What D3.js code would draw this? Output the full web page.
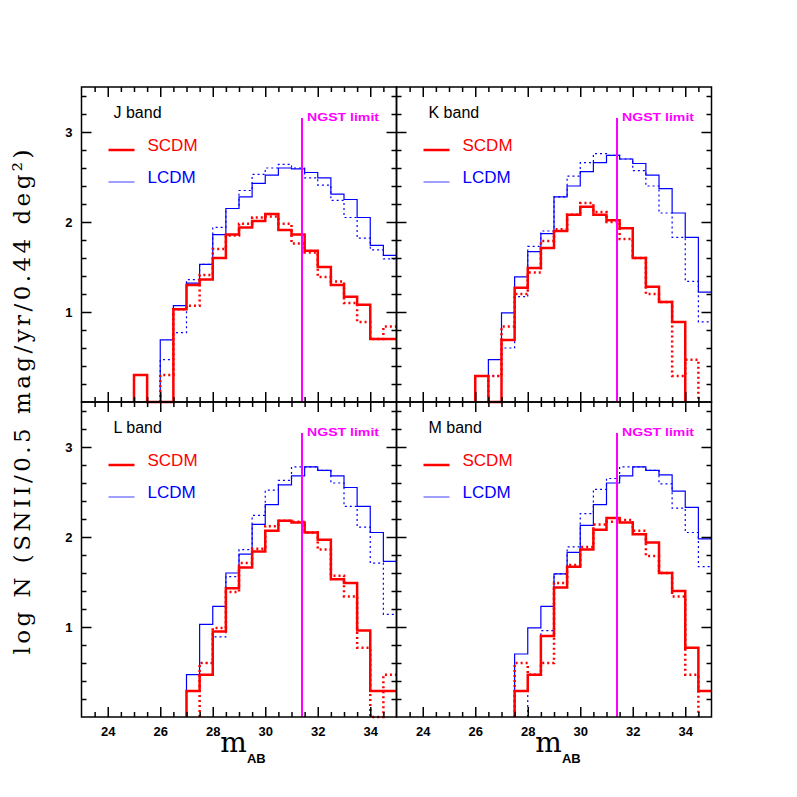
<!DOCTYPE html>
<html>
<head>
<meta charset="utf-8">
<script src="https://cdnjs.cloudflare.com/ajax/libs/d3/7.8.5/d3.min.js"></script>
<style>
	body { margin: 0; background: #fff; }
</style>
</head>
<body>
<div id="chart"></div>
<script>

/////// Data //////////

	// lower edge of each 0.5 mag bin
	var binStarts = [23, 23.5, 24, 24.5, 25, 25.5, 26, 26.5, 27, 27.5, 28, 28.5,
		29, 29.5, 30, 30.5, 31, 31.5, 32, 32.5, 33, 33.5, 34, 34.5];
	var binWidth = 0.5;

	var bands = ["J band", "K band", "L band", "M band"];
	var models = ["SCDM", "LCDM"];
	var ngstLimit = 31.4;

	// log N per bin (0 = empty)
	var jScdmSolid  = [0,0,0,0,0.30,0,0,1.03,1.30,1.36,1.60,1.86,1.94,2.01,2.09,1.91,1.86,1.68,1.50,1.30,1.17,1.08,0.70,0.70];
	var jScdmDotted = [0,0,0,0,0,0,0.30,1.03,1.07,1.41,1.70,1.85,1.98,2.05,2.06,1.98,1.76,1.66,1.39,1.34,1.10,0.89,0.70,0.84];
	var jLcdmSolid  = [0,0,0,0,0,0,0.69,1.07,1.32,1.53,1.86,2.15,2.28,2.43,2.52,2.60,2.59,2.55,2.49,2.31,2.25,2.05,1.74,1.63];
	var jLcdmDotted = [0,0,0,0,0,0,0.47,0.77,1.36,1.53,1.94,2.15,2.35,2.53,2.60,2.64,2.60,2.49,2.41,2.24,2.05,1.82,1.69,1.59];

	var kScdmSolid  = [0,0,0,0,0,0,0.29,0,0.69,1.27,1.49,1.71,1.90,2.08,2.17,2.08,2.02,1.93,1.60,1.28,1.11,0.89,0,0];
	var kScdmDotted = [0,0,0,0,0,0,0,0.29,0.84,1.20,1.44,1.79,1.92,2.08,2.21,2.11,2.00,1.81,1.60,1.20,1.11,0.29,0.47,0];
	var kLcdmSolid  = [0,0,0,0,0,0,0.29,0.47,0.99,1.39,1.67,1.87,2.28,2.40,2.56,2.66,2.74,2.70,2.65,2.52,2.37,2.10,1.83,1.22];
	var kLcdmDotted = [0,0,0,0,0,0,0,0.29,0.60,1.17,1.73,1.90,2.28,2.51,2.66,2.76,2.74,2.70,2.57,2.40,2.10,1.83,1.34,0.89];

	var lScdmSolid  = [0,0,0,0,0,0,0,0,0.29,0.47,0.95,1.43,1.66,1.84,2.07,2.18,2.16,2.05,1.97,1.53,1.49,0.96,0.29,0.29];
	var lScdmDotted = [0,0,0,0,0,0,0,0,0,0.60,0.99,1.39,1.71,1.87,2.12,2.18,2.17,2.05,1.86,1.57,1.34,0.77,0,0.47];
	var lLcdmSolid  = [0,0,0,0,0,0,0,0,0.47,1.03,1.23,1.60,1.81,2.14,2.36,2.58,2.68,2.78,2.74,2.68,2.55,2.34,2.05,1.73];
	var lLcdmDotted = [0,0,0,0,0,0,0,0,0,0.60,0.89,1.56,1.86,2.24,2.52,2.63,2.78,2.78,2.74,2.60,2.34,2.11,1.71,1.14];

	var mScdmSolid  = [0,0,0,0,0,0,0,0,0,0.29,0.47,0.90,1.44,1.67,1.86,2.08,2.21,2.16,2.03,1.94,1.60,1.40,0.77,0.29];
	var mScdmDotted = [0,0,0,0,0,0,0,0,0,0.60,0.47,0.60,1.49,1.69,1.89,2.14,2.17,2.19,2.07,1.79,1.60,1.34,0.47,0];
	var mLcdmSolid  = [0,0,0,0,0,0,0,0,0,0.70,0.99,1.23,1.59,1.83,2.13,2.36,2.60,2.68,2.78,2.74,2.69,2.51,2.33,1.98];
	var mLcdmDotted = [0,0,0,0,0,0,0,0,0,0,0.47,0.96,1.59,1.89,2.26,2.53,2.65,2.78,2.78,2.74,2.59,2.32,2.05,1.67];

	var panelSeries = [
		[jLcdmDotted, jLcdmSolid, jScdmDotted, jScdmSolid],
		[kLcdmDotted, kLcdmSolid, kScdmDotted, kScdmSolid],
		[lLcdmDotted, lLcdmSolid, lScdmDotted, lScdmSolid],
		[mLcdmDotted, mLcdmSolid, mScdmDotted, mScdmSolid]
	];

	var xMajorTicks = [24, 26, 28, 30, 32, 34];
	var yMajorTicks = [1, 2, 3];

/////// Layout //////////

	var W = 797, H = 797;
	var padLeft = 81.5, padTop = 87, size = 315;

	var svg = d3.select("#chart")
		.append("svg")
		.attr("width", W)
		.attr("height", H);

	var x = d3.scaleLinear().domain([23, 35]).range([0, size]);
	var y = d3.scaleLinear().domain([0, 3.5]).range([size, 0]);

	var xMinorTicks = d3.range(23.5, 35, 0.5).filter(function(d) { return xMajorTicks.indexOf(d) < 0; });
	var yMinorTicks = d3.range(1, 18).map(function(i) { return +(i * 0.2).toFixed(1); })
		.filter(function(d) { return yMajorTicks.indexOf(d) < 0; });

	// series style, in drawing order: LCDM dotted, LCDM solid, SCDM dotted, SCDM solid
	var seriesStyle = [
		{color: "#0000ff", width: 1.2, dash: "2,3"},
		{color: "#0000ff", width: 1.2, dash: null},
		{color: "#ff0000", width: 2.5, dash: "2,3"},
		{color: "#ff0000", width: 2.5, dash: null}
	];

	var line = d3.line()
		.x(function(d) { return x(d[0]); })
		.y(function(d) { return y(d[1]); });

	// outline of a histogram, from first to last filled bin
	function histPoints(vals) {
		var first = -1, last = -1;
		vals.forEach(function(v, i) { if (v > 0) { if (first < 0) first = i; last = i; } });
		var pts = [[binStarts[first], 0]];
		for (var i = first; i <= last; i++) {
			pts.push([binStarts[i], vals[i]]);
			pts.push([binStarts[i] + binWidth, vals[i]]);
		}
		var end = binStarts[last] + binWidth;
		if (end < 35) pts.push([end, 0]);
		return pts;
	}

/////// Panels //////////

	bands.forEach(function(band, p) {
		var col = p % 2, row = Math.floor(p / 2);
		var g = svg.append("g")
			.attr("transform", "translate(" + (padLeft + col * size) + "," + (padTop + row * size) + ")");

		// histograms
		panelSeries[p].forEach(function(vals, s) {
			var st = seriesStyle[s];
			g.append("path")
				.attr("d", line(histPoints(vals)))
				.attr("fill", "none")
				.attr("stroke", st.color)
				.attr("stroke-width", st.width)
				.attr("stroke-dasharray", st.dash);
		});

		// NGST limit
		g.append("line")
			.attr("x1", x(ngstLimit)).attr("x2", x(ngstLimit))
			.attr("y1", 31).attr("y2", size)
			.attr("stroke", "#ff00ff")
			.attr("stroke-width", 2);
		g.append("text")
			.attr("x", x(ngstLimit) + 5)
			.attr("y", 34)
			.attr("fill", "#ff00ff")
			.attr("font-family", "Liberation Sans, Arial, sans-serif")
			.attr("font-weight", "bold")
			.attr("font-size", 11)
			.attr("textLength", 72)
			.attr("lengthAdjust", "spacingAndGlyphs")
			.text("NGST limit");

		// legend
		g.append("text")
			.attr("x", 32).attr("y", 31)
			.attr("font-family", "Liberation Sans, Arial, sans-serif")
			.attr("font-size", 16)
			.text(band);
		var legColors = ["#ff0000", "#0000ff"], legLines = ["#ff0000", "#9f9fff"], legWidths = [2.5, 2];
		models.forEach(function(m, i) {
			var ly = 63 + i * 32;
			g.append("line")
				.attr("x1", 27).attr("x2", 53)
				.attr("y1", ly).attr("y2", ly)
				.attr("stroke", legLines[i])
				.attr("stroke-width", legWidths[i]);
			g.append("text")
				.attr("x", 66).attr("y", ly + 1)
				.attr("fill", legColors[i])
				.attr("font-family", "Liberation Sans, Arial, sans-serif")
				.attr("font-size", 17)
				.text(m);
		});

		// axes, ticks pointing inward on all four sides
		function addAxis(axisFn, scale, ticks, len, tr, labels) {
			var a = axisFn(scale).tickValues(ticks).tickSize(-len).tickSizeOuter(0);
			a.tickFormat(labels ? d3.format("d") : "");
			var ag = g.append("g").attr("transform", tr).call(a);
			ag.select(".domain").remove();
			ag.selectAll("line").attr("stroke-width", 1.5);
			return ag;
		}
		var bottomAx = addAxis(d3.axisBottom, x, xMajorTicks, 10, "translate(0," + size + ")", row === 1);
		addAxis(d3.axisBottom, x, xMinorTicks, 5, "translate(0," + size + ")", false);
		addAxis(d3.axisTop, x, xMajorTicks, 10, "translate(0,0)", false);
		addAxis(d3.axisTop, x, xMinorTicks, 5, "translate(0,0)", false);
		var leftAx = addAxis(d3.axisLeft, y, yMajorTicks, 10, "translate(0,0)", col === 0);
		addAxis(d3.axisLeft, y, yMinorTicks, 5, "translate(0,0)", false);
		addAxis(d3.axisRight, y, yMajorTicks, 10, "translate(" + size + ",0)", false);
		addAxis(d3.axisRight, y, yMinorTicks, 5, "translate(" + size + ",0)", false);

		bottomAx.selectAll("text").attr("y", 10);
		leftAx.selectAll("text").attr("x", -9);
		[bottomAx, leftAx].forEach(function(a) {
			a.attr("font-family", "Liberation Sans, Arial, sans-serif")
				.attr("font-size", 13)
				.attr("font-weight", "bold");
			a.selectAll("text").attr("fill", "#000");
		});

		// frame
		g.append("rect")
			.attr("width", size).attr("height", size)
			.attr("fill", "none")
			.attr("stroke", "#000")
			.attr("stroke-width", 1.5);

		// x title under the bottom panels
		if (row === 1) {
			var t = g.append("text")
				.attr("x", size / 2 + 4)
				.attr("y", size + 35)
				.attr("text-anchor", "middle")
				.attr("font-family", "DejaVu Serif, serif")
				.attr("font-size", 28);
			t.append("tspan").text("m");
			t.append("tspan")
				.attr("dy", 11)
				.attr("font-family", "Liberation Sans, Arial, sans-serif")
				.attr("font-weight", "bold")
				.attr("font-size", 13)
				.text("AB");
		}
	});

/////// Y title //////////

	svg.append("text")
		.attr("transform", "translate(30," + (padTop + size) + ") rotate(-90)")
		.attr("text-anchor", "middle")
		.attr("font-family", "DejaVu Serif, serif")
		.attr("font-size", 23)
		.attr("textLength", 505)
		.attr("lengthAdjust", "spacing")
		.text("log N (SNII/0.5 mag/yr/0.44 deg\u00b2)");

</script>
</body>
</html>
